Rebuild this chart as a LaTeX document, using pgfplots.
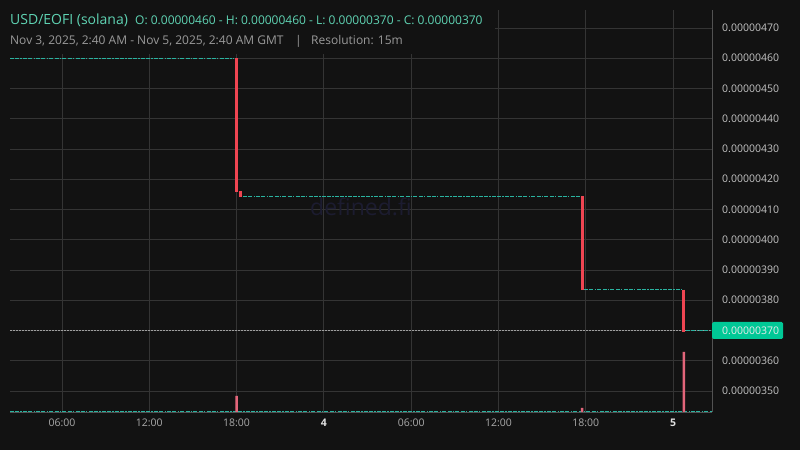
\documentclass[border=0pt]{standalone}
\usepackage{fontspec}
\setmainfont{Open Sans}
\usepackage{pgfplots}
\pgfplotsset{compat=1.18}
\definecolor{bg}{HTML}{121212}
\definecolor{gridc}{HTML}{343434}
\definecolor{axc}{HTML}{525252}
\definecolor{tealc}{HTML}{2AB3A0}
\definecolor{titlec}{HTML}{5FD3B3}
\definecolor{subc}{HTML}{9A9A9A}
\definecolor{candle}{HTML}{EF4552}
\definecolor{vol}{HTML}{E2657A}
\definecolor{boxc}{HTML}{00C896}
\definecolor{tickc}{HTML}{C4C4C4}
\definecolor{wm}{HTML}{1C1C30}
\begin{document}
\begin{tikzpicture}[x=1bp,y=1bp]
\fill[bg] (0,0) rectangle (800,450);
\tikzset{flat/.style={tealc, line width=0.9bp, dash pattern=on 4bp off 1.2bp on 4bp off 1.2bp on 1.5bp off 1.2bp}}
% price axis
\begin{axis}[at={(10bp,38bp)}, anchor=south west, scale only axis,
  width=702bp, height=402bp, xmin=2.426, xmax=50.68, ymin=343.06, ymax=475.95,
  axis line style={draw=none}, major tick length=0pt,
  grid=major, major grid style={gridc, line width=0.8bp},
  xtick={6,12,18,24,30,36,42,48},
  xticklabels={06:00,12:00,18:00,\textbf{\color{white!88!black}4},06:00,12:00,18:00,\textbf{\color{white!88!black}5}},
  xticklabel style={font=\fontsize{10.5bp}{12bp}\selectfont, text=subc!85!white, anchor=north, inner sep=0pt, yshift=-7bp},
  ytick={350,360,370,380,390,400,410,420,430,440,450,460,470},
  yticklabels={0.00000350,0.00000360,0.00000370,0.00000380,0.00000390,0.00000400,0.00000410,0.00000420,0.00000430,0.00000440,0.00000450,0.00000460,0.00000470},
  yticklabel pos=right,
  yticklabel style={font=\fontsize{10.5bp}{12bp}\selectfont, text=tickc, anchor=west, inner sep=0pt, xshift=10bp},
  clip=false]
\node[wm, font=\fontsize{23bp}{24bp}\selectfont] at (axis cs:26.55,410.8) {defined.fi};
\addplot[gray!75, line width=0.8bp, dash pattern=on 1.5bp off 1.5bp] coordinates {(2.426,370) (50.68,370)};
\addplot[flat] coordinates {(2.426,460) (17.82,460)};
\addplot[flat] coordinates {(18.45,414.4) (41.6,414.4)};
\addplot[flat] coordinates {(41.9,383.5) (48.6,383.5)};
\addplot[flat] coordinates {(48.9,370) (50.68,370)};
\addplot[candle, line width=3bp] coordinates {(18,460) (18,415.8)};
\addplot[candle, line width=3bp] coordinates {(18.25,416) (18.25,414.2)};
\addplot[candle, line width=3bp] coordinates {(41.75,414.5) (41.75,383.5)};
\addplot[candle, line width=3bp] coordinates {(48.75,383.5) (48.75,369.6)};
\draw[axc, line width=0.8bp] (rel axis cs:1,0) -- (rel axis cs:1,1);
\draw[axc, line width=0.8bp] (rel axis cs:0,0) -- (rel axis cs:1,0);
\coordinate (lp) at (axis cs:50.68,370);
\end{axis}
% volume axis (drawn above the price grid)
\begin{axis}[at={(10bp,38bp)}, anchor=south west, scale only axis,
  width=702bp, height=402bp, xmin=2.426, xmax=50.68, ymin=0, ymax=402,
  hide axis, clip=false]
\addplot[flat, forget plot] coordinates {(2.426,0.9) (50.68,0.9)};
\addplot[ybar, bar width=2.4bp, fill=vol, draw=none] coordinates {(18,16) (41.75,4) (48.75,60)};
\end{axis}
% title block
\fill[bg] (10,396) rectangle (495,441);
\node[anchor=base west, inner sep=0pt, text=titlec, font=\fontsize{14bp}{16bp}\selectfont] at (10,425) {USD/EOFI (solana)};
\node[anchor=base west, inner sep=0pt, text=titlec, font=\fontsize{12bp}{14bp}\selectfont] at (135,425) {O: 0.00000460 - H: 0.00000460 - L: 0.00000370 - C: 0.00000370};
\node[anchor=base west, inner sep=0pt, text=subc, font=\fontsize{12bp}{14bp}\selectfont] at (10,405) {Nov 3, 2025, 2:40 AM - Nov 5, 2025, 2:40 AM GMT};
\node[anchor=base west, inner sep=0pt, text=subc, font=\fontsize{12bp}{14bp}\selectfont] at (295,405) {|};
\node[anchor=base west, inner sep=0pt, text=subc, font=\fontsize{12bp}{14bp}\selectfont] at (311,405) {Resolution: 15m};
% last price label
\fill[boxc, rounded corners=1.5bp] ([yshift=-8.5bp]lp) rectangle ([xshift=71bp,yshift=8.5bp]lp);
\node[anchor=west, inner sep=0pt, text=white!92!black, font=\fontsize{10.5bp}{12bp}\selectfont] at ([xshift=10bp]lp) {0.00000370};
\end{tikzpicture}
\end{document}
